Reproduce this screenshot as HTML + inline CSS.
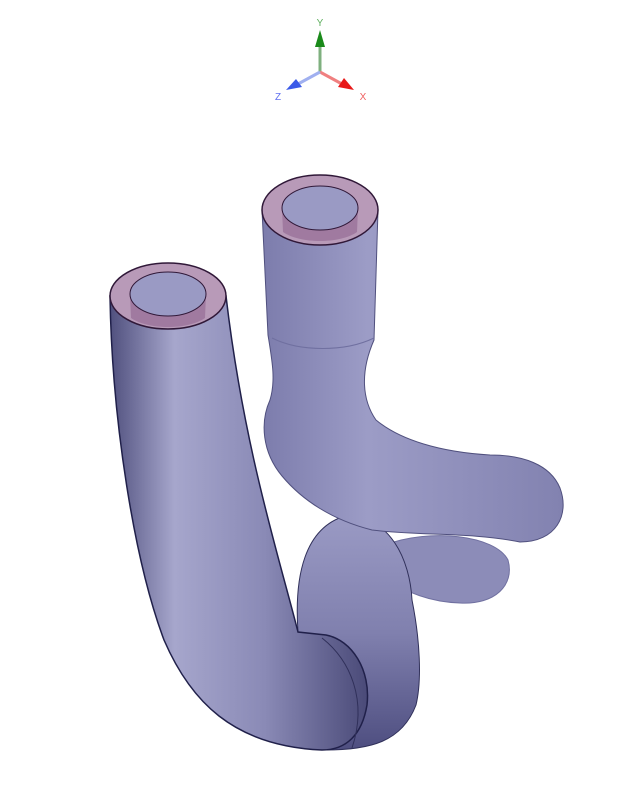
<!DOCTYPE html>
<html><head><meta charset="utf-8"><style>
html,body{margin:0;padding:0;background:#fff;}
svg{display:block;font-family:"Liberation Sans",sans-serif;}
</style></head><body>
<svg width="638" height="785" viewBox="0 0 638 785">
<defs>
<linearGradient id="gl" x1="0" x2="1" y1="0" y2="0">
<stop offset="0" stop-color="#50507e"/><stop offset="0.25" stop-color="#a6a6cc"/><stop offset="0.6" stop-color="#8a8ab6"/><stop offset="1" stop-color="#4a4a78"/></linearGradient>
<linearGradient id="gr" x1="0" x2="1" y1="0" y2="0">
<stop offset="0" stop-color="#7c7cac"/><stop offset="0.35" stop-color="#9c9cc6"/><stop offset="1" stop-color="#8282b0"/></linearGradient>
<linearGradient id="gb" x1="0" x2="0" y1="0" y2="1">
<stop offset="0" stop-color="#9a9ac4"/><stop offset="0.5" stop-color="#8080ae"/><stop offset="1" stop-color="#4e4e80"/></linearGradient>
</defs>
<g>
<line x1="320" y1="72" x2="320" y2="45" stroke="#7fb07f" stroke-width="3"/>
<polygon points="320,30 315,47 325,47" fill="#1a8a1a"/>
<line x1="320" y1="72" x2="342" y2="84" stroke="#f08080" stroke-width="3"/>
<polygon points="354,90 338,87 344,78" fill="#e81818"/>
<line x1="320" y1="72" x2="298" y2="84" stroke="#a0b0f0" stroke-width="3"/>
<polygon points="286,90 296,79 302,87" fill="#3a5ae8"/>
<text x="320" y="26" font-size="10" fill="#60b060" text-anchor="middle">Y</text>
<text x="363" y="100" font-size="10" fill="#f06060" text-anchor="middle">X</text>
<text x="278" y="100" font-size="10" fill="#6070f0" text-anchor="middle">Z</text>
</g>
<path d="M385,545 C430,528 495,535 508,560 C515,585 495,605 460,603 C430,602 405,592 390,580 Z" fill="#8c8cb8" stroke="#7070a0" stroke-width="1"/>
<path d="M298,632 C294,575 305,528 345,516 C390,515 410,560 412,600 C420,640 422,680 416,705 C402,742 370,750 325,750 L300,650 Z" fill="url(#gb)" stroke="#30305a" stroke-width="1"/>
<path d="M262,210 L268,335 C272,360 276,380 270,400 C260,422 262,452 282,476 C302,500 332,520 372,530 C420,536 470,532 520,542 C556,542 570,515 560,488 C550,464 522,455 490,455 C440,452 400,440 376,420 C362,400 360,372 374,340 L378,210 Z" fill="url(#gr)" stroke="#50507e" stroke-width="1"/>
<path d="M272,338 C300,352 345,352 374,338" fill="none" stroke="#7070a0" stroke-width="1"/>
<path d="M110,296 C112,420 134,560 164,640 C190,700 232,746 322,750 C346,750 362,735 367,705 C371,670 352,640 326,635 L298,632 C280,560 244,450 226,296 Z" fill="url(#gl)" stroke="#20204a" stroke-width="1.5"/>
<path d="M322,638 C350,660 368,700 352,748" fill="none" stroke="#30305a" stroke-width="1"/>
<g>
<ellipse cx="320" cy="210" rx="58" ry="35" fill="#b89ab8" stroke="#301838" stroke-width="1.5"/>
<path d="M282,208 L283,232 C300,244 340,244 357,232 L358,208 Z" fill="#a07aa0"/>
<ellipse cx="320" cy="208" rx="38" ry="22" fill="#9a9ac4" stroke="#301838" stroke-width="1"/>
</g>
<g>
<ellipse cx="168" cy="296" rx="58" ry="33" fill="#b89ab8" stroke="#301838" stroke-width="1.5"/>
<path d="M130,294 L131,318 C148,330 188,330 205,318 L206,294 Z" fill="#a07aa0"/>
<ellipse cx="168" cy="294" rx="38" ry="22" fill="#9a9ac4" stroke="#301838" stroke-width="1"/>
</g>
</svg>
</body></html>
